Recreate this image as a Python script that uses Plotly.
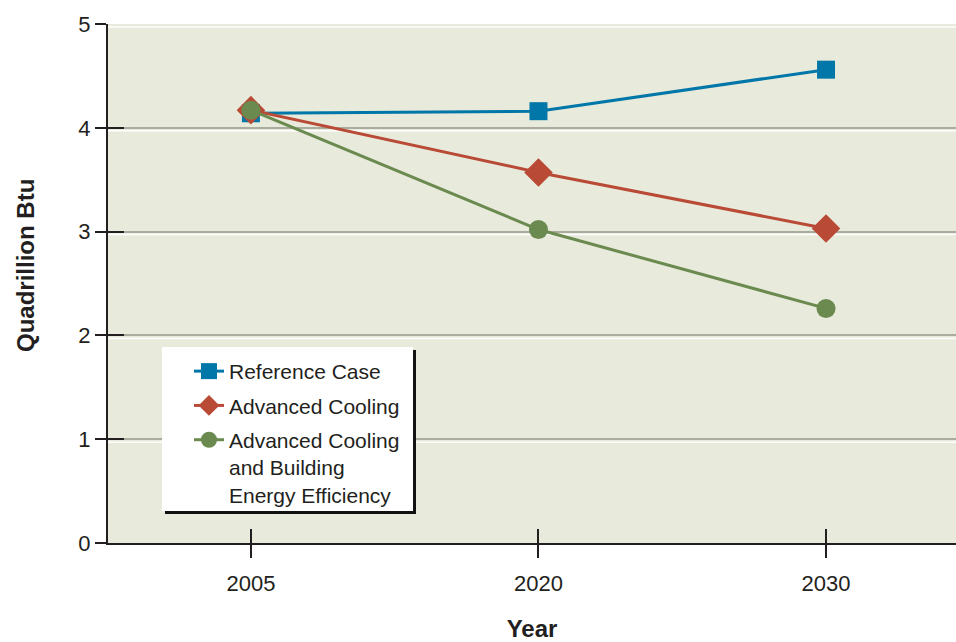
import plotly.graph_objects as go

# Projected energy use, quadrillion Btu
years = ["2005", "2020", "2030"]
reference_case = [4.14, 4.16, 4.56]
advanced_cooling = [4.17, 3.57, 3.03]
advanced_cooling_building = [4.17, 3.02, 2.26]
y_ticks = [0, 1, 2, 3, 4, 5]

series_names = [
    "Reference Case",
    "Advanced Cooling",
    "Advanced Cooling<br>and Building<br>Energy Efficiency",
]
groups = ["ref", "cool", "cool_bldg"]
colors = ["#0077a8", "#b94a36", "#6a8a4f"]
symbols = ["square", "diamond", "circle"]
sizes = [18, 22, 19]
ink = "#231f20"
font_family = "Liberation Sans, Arial, sans-serif"

fig = go.Figure()
for name, grp, vals, col, sym, sz in zip(
    series_names, groups,
    [reference_case, advanced_cooling, advanced_cooling_building],
    colors, symbols, sizes,
):
    fig.add_trace(go.Scatter(
        x=years, y=vals, name=name, legendgroup=grp, mode="lines+markers",
        line=dict(color=col, width=3),
        marker=dict(symbol=sym, size=sz, color=col, line=dict(width=0)),
    ))

# white highlight under each gridline for an embossed look
shapes = []
for v in y_ticks[1:]:
    shapes.append(dict(
        type="line", xref="paper", x0=0, x1=1, yref="y",
        ysizemode="pixel", yanchor=v, y0=-3, y1=-3,
        line=dict(color="white", width=1.5), layer="below",
    ))
# legend panel with a drop shadow
shapes.append(dict(
    type="rect", xref="paper", yref="paper",
    x0=0.0672, x1=0.3632, y0=0.0559, y1=0.3719,
    fillcolor="#111111", line=dict(width=0), layer="above",
))
shapes.append(dict(
    type="rect", xref="paper", yref="paper",
    x0=0.0637, x1=0.3597, y0=0.0617, y1=0.3776,
    fillcolor="white", line=dict(width=0), layer="above",
))
fig.update_layout(shapes=shapes)

# y-axis title placed as a rotated annotation, sitting a little above centre
fig.add_annotation(
    text="<b>Quadrillion Btu</b>", textangle=-90,
    xref="paper", yref="paper", x=-0.0979, y=0.5356,
    xanchor="center", yanchor="middle", showarrow=False,
    font=dict(size=24, color=ink, family=font_family),
)

fig.update_layout(
    width=956, height=642,
    margin=dict(l=108, r=0, t=24, b=99),
    paper_bgcolor="white",
    plot_bgcolor="#e8eadb",
    font=dict(family=font_family, color=ink, size=21),
    showlegend=True,
    legend=dict(
        x=0.0955, y=0.370, xanchor="left", yanchor="top",
        bgcolor="rgba(0,0,0,0)", borderwidth=0,
        font=dict(size=21, color=ink),
        traceorder="grouped", tracegroupgap=4, valign="top",
    ),
    xaxis=dict(
        type="category", range=[-0.497, 2.452],
        showgrid=False, zeroline=False,
        showline=True, linecolor=ink, linewidth=2,
        ticks="outside", ticklen=13, tickwidth=2, tickcolor=ink,
        ticklabelstandoff=7,
        tickfont=dict(size=22, color=ink),
        title=dict(text="<b>Year</b>", font=dict(size=24, color=ink), standoff=26),
    ),
    yaxis=dict(
        range=[0, 5], tickvals=y_ticks,
        showgrid=True, gridcolor="#a9ac9f", gridwidth=2,
        zeroline=False,
        showline=True, linecolor=ink, linewidth=2,
        ticks="outside", ticklen=11, tickwidth=2, tickcolor=ink,
        ticklabelstandoff=0,
        tickfont=dict(size=22, color=ink),
    ),
    xaxis2=dict(
        type="category", range=[-0.497, 2.452], overlaying="x",
        matches="x", showgrid=False, zeroline=False, showline=False,
        ticks="inside", ticklen=14, tickwidth=2, tickcolor=ink,
        showticklabels=False, side="bottom",
    ),
    yaxis2=dict(
        range=[0, 5], tickvals=y_ticks, overlaying="y",
        showgrid=False, zeroline=False, showline=False,
        ticks="inside", ticklen=16, tickwidth=2, tickcolor=ink,
        showticklabels=False, side="left",
    ),
)

# invisible trace to bring the inner tick axes into view
fig.add_trace(go.Scatter(
    x=years, y=reference_case, xaxis="x2", yaxis="y2",
    mode="markers", marker=dict(opacity=0), showlegend=False, hoverinfo="skip",
))

fig.write_html("out.html")
